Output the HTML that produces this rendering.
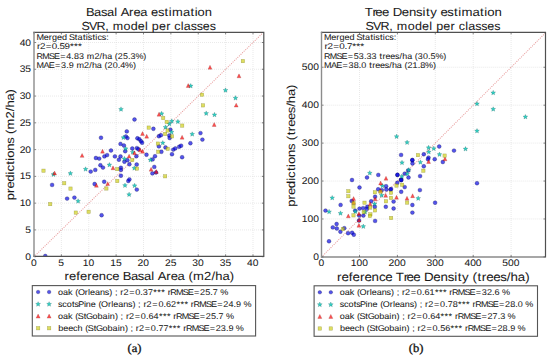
<!DOCTYPE html>
<html><head><meta charset="utf-8"><style>
html,body{margin:0;padding:0;background:#fff;}
body{width:550px;height:358px;overflow:hidden;}
svg{display:block;}
text{font-family:"Liberation Sans", sans-serif;fill:#1a1a1a;stroke:#1a1a1a;stroke-width:0.05px;text-rendering:geometricPrecision;}
</style></head><body>
<svg width="550" height="358" viewBox="0 0 550 358">
<clipPath id="cl"><rect x="34.0" y="32.3" width="229.8" height="224.09999999999997"/></clipPath>
<line x1="61.38" y1="32.3" x2="61.38" y2="256.4" stroke="#d2d2d2" stroke-width="0.7" stroke-dasharray="0.7 1.3"/>
<line x1="88.75" y1="32.3" x2="88.75" y2="256.4" stroke="#d2d2d2" stroke-width="0.7" stroke-dasharray="0.7 1.3"/>
<line x1="116.12" y1="32.3" x2="116.12" y2="256.4" stroke="#d2d2d2" stroke-width="0.7" stroke-dasharray="0.7 1.3"/>
<line x1="143.50" y1="32.3" x2="143.50" y2="256.4" stroke="#d2d2d2" stroke-width="0.7" stroke-dasharray="0.7 1.3"/>
<line x1="170.88" y1="32.3" x2="170.88" y2="256.4" stroke="#d2d2d2" stroke-width="0.7" stroke-dasharray="0.7 1.3"/>
<line x1="198.25" y1="32.3" x2="198.25" y2="256.4" stroke="#d2d2d2" stroke-width="0.7" stroke-dasharray="0.7 1.3"/>
<line x1="225.62" y1="32.3" x2="225.62" y2="256.4" stroke="#d2d2d2" stroke-width="0.7" stroke-dasharray="0.7 1.3"/>
<line x1="253.00" y1="32.3" x2="253.00" y2="256.4" stroke="#d2d2d2" stroke-width="0.7" stroke-dasharray="0.7 1.3"/>
<line x1="34.0" y1="229.92" x2="263.8" y2="229.92" stroke="#d2d2d2" stroke-width="0.7" stroke-dasharray="0.7 1.3"/>
<line x1="34.0" y1="203.15" x2="263.8" y2="203.15" stroke="#d2d2d2" stroke-width="0.7" stroke-dasharray="0.7 1.3"/>
<line x1="34.0" y1="176.38" x2="263.8" y2="176.38" stroke="#d2d2d2" stroke-width="0.7" stroke-dasharray="0.7 1.3"/>
<line x1="34.0" y1="149.60" x2="263.8" y2="149.60" stroke="#d2d2d2" stroke-width="0.7" stroke-dasharray="0.7 1.3"/>
<line x1="34.0" y1="122.82" x2="263.8" y2="122.82" stroke="#d2d2d2" stroke-width="0.7" stroke-dasharray="0.7 1.3"/>
<line x1="34.0" y1="96.05" x2="263.8" y2="96.05" stroke="#d2d2d2" stroke-width="0.7" stroke-dasharray="0.7 1.3"/>
<line x1="34.0" y1="69.27" x2="263.8" y2="69.27" stroke="#d2d2d2" stroke-width="0.7" stroke-dasharray="0.7 1.3"/>
<line x1="34.0" y1="42.50" x2="263.8" y2="42.50" stroke="#d2d2d2" stroke-width="0.7" stroke-dasharray="0.7 1.3"/>
<line x1="34.0" y1="256.7" x2="274.9" y2="21.079999999999984" stroke="rgba(215,80,80,0.55)" stroke-width="1.15" stroke-linecap="round" stroke-dasharray="0.01 2.2" clip-path="url(#cl)"/>
<g clip-path="url(#cl)">
<circle cx="134.50" cy="119.50" r="1.95" fill="rgba(0,0,225,0.67)" stroke="rgba(0,0,60,0.5)" stroke-width="0.5"/>
<circle cx="200.50" cy="133.10" r="1.95" fill="rgba(0,0,225,0.67)" stroke="rgba(0,0,60,0.5)" stroke-width="0.5"/>
<circle cx="202.40" cy="139.60" r="1.95" fill="rgba(0,0,225,0.67)" stroke="rgba(0,0,60,0.5)" stroke-width="0.5"/>
<circle cx="153.40" cy="128.80" r="1.95" fill="rgba(0,0,225,0.67)" stroke="rgba(0,0,60,0.5)" stroke-width="0.5"/>
<circle cx="158.90" cy="136.20" r="1.95" fill="rgba(0,0,225,0.67)" stroke="rgba(0,0,60,0.5)" stroke-width="0.5"/>
<circle cx="160.90" cy="135.20" r="1.95" fill="rgba(0,0,225,0.67)" stroke="rgba(0,0,60,0.5)" stroke-width="0.5"/>
<circle cx="137.40" cy="138.30" r="1.95" fill="rgba(0,0,225,0.67)" stroke="rgba(0,0,60,0.5)" stroke-width="0.5"/>
<circle cx="139.40" cy="139.30" r="1.95" fill="rgba(0,0,225,0.67)" stroke="rgba(0,0,60,0.5)" stroke-width="0.5"/>
<circle cx="141.00" cy="141.30" r="1.95" fill="rgba(0,0,225,0.67)" stroke="rgba(0,0,60,0.5)" stroke-width="0.5"/>
<circle cx="142.10" cy="142.70" r="1.95" fill="rgba(0,0,225,0.67)" stroke="rgba(0,0,60,0.5)" stroke-width="0.5"/>
<circle cx="169.30" cy="135.50" r="1.95" fill="rgba(0,0,225,0.67)" stroke="rgba(0,0,60,0.5)" stroke-width="0.5"/>
<circle cx="169.60" cy="138.00" r="1.95" fill="rgba(0,0,225,0.67)" stroke="rgba(0,0,60,0.5)" stroke-width="0.5"/>
<circle cx="170.40" cy="129.60" r="1.95" fill="rgba(0,0,225,0.67)" stroke="rgba(0,0,60,0.5)" stroke-width="0.5"/>
<circle cx="190.40" cy="143.20" r="1.95" fill="rgba(0,0,225,0.67)" stroke="rgba(0,0,60,0.5)" stroke-width="0.5"/>
<circle cx="158.90" cy="146.40" r="1.95" fill="rgba(0,0,225,0.67)" stroke="rgba(0,0,60,0.5)" stroke-width="0.5"/>
<circle cx="165.50" cy="147.40" r="1.95" fill="rgba(0,0,225,0.67)" stroke="rgba(0,0,60,0.5)" stroke-width="0.5"/>
<circle cx="136.90" cy="148.10" r="1.95" fill="rgba(0,0,225,0.67)" stroke="rgba(0,0,60,0.5)" stroke-width="0.5"/>
<circle cx="138.40" cy="149.30" r="1.95" fill="rgba(0,0,225,0.67)" stroke="rgba(0,0,60,0.5)" stroke-width="0.5"/>
<circle cx="161.40" cy="151.80" r="1.95" fill="rgba(0,0,225,0.67)" stroke="rgba(0,0,60,0.5)" stroke-width="0.5"/>
<circle cx="146.50" cy="154.70" r="1.95" fill="rgba(0,0,225,0.67)" stroke="rgba(0,0,60,0.5)" stroke-width="0.5"/>
<circle cx="155.00" cy="156.20" r="1.95" fill="rgba(0,0,225,0.67)" stroke="rgba(0,0,60,0.5)" stroke-width="0.5"/>
<circle cx="136.40" cy="156.20" r="1.95" fill="rgba(0,0,225,0.67)" stroke="rgba(0,0,60,0.5)" stroke-width="0.5"/>
<circle cx="152.60" cy="159.40" r="1.95" fill="rgba(0,0,225,0.67)" stroke="rgba(0,0,60,0.5)" stroke-width="0.5"/>
<circle cx="136.70" cy="164.50" r="1.95" fill="rgba(0,0,225,0.67)" stroke="rgba(0,0,60,0.5)" stroke-width="0.5"/>
<circle cx="154.30" cy="166.90" r="1.95" fill="rgba(0,0,225,0.67)" stroke="rgba(0,0,60,0.5)" stroke-width="0.5"/>
<circle cx="156.00" cy="172.50" r="1.95" fill="rgba(0,0,225,0.67)" stroke="rgba(0,0,60,0.5)" stroke-width="0.5"/>
<circle cx="152.40" cy="173.40" r="1.95" fill="rgba(0,0,225,0.67)" stroke="rgba(0,0,60,0.5)" stroke-width="0.5"/>
<circle cx="173.30" cy="149.60" r="1.95" fill="rgba(0,0,225,0.67)" stroke="rgba(0,0,60,0.5)" stroke-width="0.5"/>
<circle cx="175.30" cy="148.40" r="1.95" fill="rgba(0,0,225,0.67)" stroke="rgba(0,0,60,0.5)" stroke-width="0.5"/>
<circle cx="179.20" cy="146.70" r="1.95" fill="rgba(0,0,225,0.67)" stroke="rgba(0,0,60,0.5)" stroke-width="0.5"/>
<circle cx="181.10" cy="145.70" r="1.95" fill="rgba(0,0,225,0.67)" stroke="rgba(0,0,60,0.5)" stroke-width="0.5"/>
<circle cx="172.00" cy="154.20" r="1.95" fill="rgba(0,0,225,0.67)" stroke="rgba(0,0,60,0.5)" stroke-width="0.5"/>
<circle cx="182.10" cy="157.20" r="1.95" fill="rgba(0,0,225,0.67)" stroke="rgba(0,0,60,0.5)" stroke-width="0.5"/>
<circle cx="120.50" cy="143.90" r="1.95" fill="rgba(0,0,225,0.67)" stroke="rgba(0,0,60,0.5)" stroke-width="0.5"/>
<circle cx="123.90" cy="145.50" r="1.95" fill="rgba(0,0,225,0.67)" stroke="rgba(0,0,60,0.5)" stroke-width="0.5"/>
<circle cx="125.20" cy="151.20" r="1.95" fill="rgba(0,0,225,0.67)" stroke="rgba(0,0,60,0.5)" stroke-width="0.5"/>
<circle cx="132.30" cy="148.50" r="1.95" fill="rgba(0,0,225,0.67)" stroke="rgba(0,0,60,0.5)" stroke-width="0.5"/>
<circle cx="111.00" cy="150.50" r="1.95" fill="rgba(0,0,225,0.67)" stroke="rgba(0,0,60,0.5)" stroke-width="0.5"/>
<circle cx="95.90" cy="158.00" r="1.95" fill="rgba(0,0,225,0.67)" stroke="rgba(0,0,60,0.5)" stroke-width="0.5"/>
<circle cx="99.20" cy="158.60" r="1.95" fill="rgba(0,0,225,0.67)" stroke="rgba(0,0,60,0.5)" stroke-width="0.5"/>
<circle cx="104.40" cy="156.40" r="1.95" fill="rgba(0,0,225,0.67)" stroke="rgba(0,0,60,0.5)" stroke-width="0.5"/>
<circle cx="107.10" cy="155.10" r="1.95" fill="rgba(0,0,225,0.67)" stroke="rgba(0,0,60,0.5)" stroke-width="0.5"/>
<circle cx="114.90" cy="156.40" r="1.95" fill="rgba(0,0,225,0.67)" stroke="rgba(0,0,60,0.5)" stroke-width="0.5"/>
<circle cx="120.50" cy="156.40" r="1.95" fill="rgba(0,0,225,0.67)" stroke="rgba(0,0,60,0.5)" stroke-width="0.5"/>
<circle cx="118.90" cy="159.70" r="1.95" fill="rgba(0,0,225,0.67)" stroke="rgba(0,0,60,0.5)" stroke-width="0.5"/>
<circle cx="124.40" cy="161.70" r="1.95" fill="rgba(0,0,225,0.67)" stroke="rgba(0,0,60,0.5)" stroke-width="0.5"/>
<circle cx="127.40" cy="160.30" r="1.95" fill="rgba(0,0,225,0.67)" stroke="rgba(0,0,60,0.5)" stroke-width="0.5"/>
<circle cx="129.40" cy="164.30" r="1.95" fill="rgba(0,0,225,0.67)" stroke="rgba(0,0,60,0.5)" stroke-width="0.5"/>
<circle cx="100.40" cy="165.20" r="1.95" fill="rgba(0,0,225,0.67)" stroke="rgba(0,0,60,0.5)" stroke-width="0.5"/>
<circle cx="103.00" cy="167.60" r="1.95" fill="rgba(0,0,225,0.67)" stroke="rgba(0,0,60,0.5)" stroke-width="0.5"/>
<circle cx="120.90" cy="167.80" r="1.95" fill="rgba(0,0,225,0.67)" stroke="rgba(0,0,60,0.5)" stroke-width="0.5"/>
<circle cx="120.90" cy="169.90" r="1.95" fill="rgba(0,0,225,0.67)" stroke="rgba(0,0,60,0.5)" stroke-width="0.5"/>
<circle cx="90.70" cy="171.60" r="1.95" fill="rgba(0,0,225,0.67)" stroke="rgba(0,0,60,0.5)" stroke-width="0.5"/>
<circle cx="95.30" cy="169.90" r="1.95" fill="rgba(0,0,225,0.67)" stroke="rgba(0,0,60,0.5)" stroke-width="0.5"/>
<circle cx="120.90" cy="175.70" r="1.95" fill="rgba(0,0,225,0.67)" stroke="rgba(0,0,60,0.5)" stroke-width="0.5"/>
<circle cx="128.30" cy="181.00" r="1.95" fill="rgba(0,0,225,0.67)" stroke="rgba(0,0,60,0.5)" stroke-width="0.5"/>
<circle cx="129.40" cy="179.40" r="1.95" fill="rgba(0,0,225,0.67)" stroke="rgba(0,0,60,0.5)" stroke-width="0.5"/>
<circle cx="94.60" cy="184.00" r="1.95" fill="rgba(0,0,225,0.67)" stroke="rgba(0,0,60,0.5)" stroke-width="0.5"/>
<circle cx="104.20" cy="181.70" r="1.95" fill="rgba(0,0,225,0.67)" stroke="rgba(0,0,60,0.5)" stroke-width="0.5"/>
<circle cx="136.80" cy="189.60" r="1.95" fill="rgba(0,0,225,0.67)" stroke="rgba(0,0,60,0.5)" stroke-width="0.5"/>
<circle cx="101.60" cy="215.20" r="1.95" fill="rgba(0,0,225,0.67)" stroke="rgba(0,0,60,0.5)" stroke-width="0.5"/>
<circle cx="126.80" cy="131.40" r="1.95" fill="rgba(0,0,225,0.67)" stroke="rgba(0,0,60,0.5)" stroke-width="0.5"/>
<circle cx="125.90" cy="136.50" r="1.95" fill="rgba(0,0,225,0.67)" stroke="rgba(0,0,60,0.5)" stroke-width="0.5"/>
<circle cx="127.50" cy="138.10" r="1.95" fill="rgba(0,0,225,0.67)" stroke="rgba(0,0,60,0.5)" stroke-width="0.5"/>
<circle cx="101.00" cy="137.70" r="1.95" fill="rgba(0,0,225,0.67)" stroke="rgba(0,0,60,0.5)" stroke-width="0.5"/>
<circle cx="52.10" cy="184.90" r="1.95" fill="rgba(0,0,225,0.67)" stroke="rgba(0,0,60,0.5)" stroke-width="0.5"/>
<circle cx="67.10" cy="198.60" r="1.95" fill="rgba(0,0,225,0.67)" stroke="rgba(0,0,60,0.5)" stroke-width="0.5"/>
<circle cx="74.40" cy="197.60" r="1.95" fill="rgba(0,0,225,0.67)" stroke="rgba(0,0,60,0.5)" stroke-width="0.5"/>
<circle cx="45.30" cy="256.00" r="1.95" fill="rgba(0,0,225,0.67)" stroke="rgba(0,0,60,0.5)" stroke-width="0.5"/>
<polygon points="225.50,87.80 226.16,89.39 227.87,89.53 226.57,90.65 226.97,92.32 225.50,91.42 224.03,92.32 224.43,90.65 223.13,89.53 224.84,89.39" fill="rgba(0,195,180,0.8)" stroke="rgba(0,70,70,0.4)" stroke-width="0.5"/>
<polygon points="235.50,95.60 236.16,97.19 237.87,97.33 236.57,98.45 236.97,100.12 235.50,99.22 234.03,100.12 234.43,98.45 233.13,97.33 234.84,97.19" fill="rgba(0,195,180,0.8)" stroke="rgba(0,70,70,0.4)" stroke-width="0.5"/>
<polygon points="206.20,110.90 206.86,112.49 208.57,112.63 207.27,113.75 207.67,115.42 206.20,114.52 204.73,115.42 205.13,113.75 203.83,112.63 205.54,112.49" fill="rgba(0,195,180,0.8)" stroke="rgba(0,70,70,0.4)" stroke-width="0.5"/>
<polygon points="214.50,112.30 215.16,113.89 216.87,114.03 215.57,115.15 215.97,116.82 214.50,115.92 213.03,116.82 213.43,115.15 212.13,114.03 213.84,113.89" fill="rgba(0,195,180,0.8)" stroke="rgba(0,70,70,0.4)" stroke-width="0.5"/>
<polygon points="190.70,83.50 191.36,85.09 193.07,85.23 191.77,86.35 192.17,88.02 190.70,87.12 189.23,88.02 189.63,86.35 188.33,85.23 190.04,85.09" fill="rgba(0,195,180,0.8)" stroke="rgba(0,70,70,0.4)" stroke-width="0.5"/>
<polygon points="161.60,111.20 162.26,112.79 163.97,112.93 162.67,114.05 163.07,115.72 161.60,114.82 160.13,115.72 160.53,114.05 159.23,112.93 160.94,112.79" fill="rgba(0,195,180,0.8)" stroke="rgba(0,70,70,0.4)" stroke-width="0.5"/>
<polygon points="121.00,106.80 121.66,108.39 123.37,108.53 122.07,109.65 122.47,111.32 121.00,110.42 119.53,111.32 119.93,109.65 118.63,108.53 120.34,108.39" fill="rgba(0,195,180,0.8)" stroke="rgba(0,70,70,0.4)" stroke-width="0.5"/>
<polygon points="165.50,124.80 166.16,126.39 167.87,126.53 166.57,127.65 166.97,129.32 165.50,128.42 164.03,129.32 164.43,127.65 163.13,126.53 164.84,126.39" fill="rgba(0,195,180,0.8)" stroke="rgba(0,70,70,0.4)" stroke-width="0.5"/>
<polygon points="162.80,140.50 163.46,142.09 165.17,142.23 163.87,143.35 164.27,145.02 162.80,144.12 161.33,145.02 161.73,143.35 160.43,142.23 162.14,142.09" fill="rgba(0,195,180,0.8)" stroke="rgba(0,70,70,0.4)" stroke-width="0.5"/>
<polygon points="171.80,118.70 172.46,120.29 174.17,120.43 172.87,121.55 173.27,123.22 171.80,122.32 170.33,123.22 170.73,121.55 169.43,120.43 171.14,120.29" fill="rgba(0,195,180,0.8)" stroke="rgba(0,70,70,0.4)" stroke-width="0.5"/>
<polygon points="177.90,119.20 178.56,120.79 180.27,120.93 178.97,122.05 179.37,123.72 177.90,122.82 176.43,123.72 176.83,122.05 175.53,120.93 177.24,120.79" fill="rgba(0,195,180,0.8)" stroke="rgba(0,70,70,0.4)" stroke-width="0.5"/>
<polygon points="169.40,121.40 170.06,122.99 171.77,123.13 170.47,124.25 170.87,125.92 169.40,125.02 167.93,125.92 168.33,124.25 167.03,123.13 168.74,122.99" fill="rgba(0,195,180,0.8)" stroke="rgba(0,70,70,0.4)" stroke-width="0.5"/>
<polygon points="171.60,129.70 172.26,131.29 173.97,131.43 172.67,132.55 173.07,134.22 171.60,133.32 170.13,134.22 170.53,132.55 169.23,131.43 170.94,131.29" fill="rgba(0,195,180,0.8)" stroke="rgba(0,70,70,0.4)" stroke-width="0.5"/>
<polygon points="192.20,131.70 192.86,133.29 194.57,133.43 193.27,134.55 193.67,136.22 192.20,135.32 190.73,136.22 191.13,134.55 189.83,133.43 191.54,133.29" fill="rgba(0,195,180,0.8)" stroke="rgba(0,70,70,0.4)" stroke-width="0.5"/>
<polygon points="150.40,157.50 151.06,159.09 152.77,159.23 151.47,160.35 151.87,162.02 150.40,161.12 148.93,162.02 149.33,160.35 148.03,159.23 149.74,159.09" fill="rgba(0,195,180,0.8)" stroke="rgba(0,70,70,0.4)" stroke-width="0.5"/>
<polygon points="125.70,146.20 126.36,147.79 128.07,147.93 126.77,149.05 127.17,150.72 125.70,149.82 124.23,150.72 124.63,149.05 123.33,147.93 125.04,147.79" fill="rgba(0,195,180,0.8)" stroke="rgba(0,70,70,0.4)" stroke-width="0.5"/>
<polygon points="132.70,149.80 133.36,151.39 135.07,151.53 133.77,152.65 134.17,154.32 132.70,153.42 131.23,154.32 131.63,152.65 130.33,151.53 132.04,151.39" fill="rgba(0,195,180,0.8)" stroke="rgba(0,70,70,0.4)" stroke-width="0.5"/>
<polygon points="124.40,156.30 125.06,157.89 126.77,158.03 125.47,159.15 125.87,160.82 124.40,159.92 122.93,160.82 123.33,159.15 122.03,158.03 123.74,157.89" fill="rgba(0,195,180,0.8)" stroke="rgba(0,70,70,0.4)" stroke-width="0.5"/>
<polygon points="109.40,162.40 110.06,163.99 111.77,164.13 110.47,165.25 110.87,166.92 109.40,166.02 107.93,166.92 108.33,165.25 107.03,164.13 108.74,163.99" fill="rgba(0,195,180,0.8)" stroke="rgba(0,70,70,0.4)" stroke-width="0.5"/>
<polygon points="134.30,165.70 134.96,167.29 136.67,167.43 135.37,168.55 135.77,170.22 134.30,169.32 132.83,170.22 133.23,168.55 131.93,167.43 133.64,167.29" fill="rgba(0,195,180,0.8)" stroke="rgba(0,70,70,0.4)" stroke-width="0.5"/>
<polygon points="125.00,183.00 125.66,184.59 127.37,184.73 126.07,185.85 126.47,187.52 125.00,186.62 123.53,187.52 123.93,185.85 122.63,184.73 124.34,184.59" fill="rgba(0,195,180,0.8)" stroke="rgba(0,70,70,0.4)" stroke-width="0.5"/>
<polygon points="134.60,183.20 135.26,184.79 136.97,184.93 135.67,186.05 136.07,187.72 134.60,186.82 133.13,187.72 133.53,186.05 132.23,184.93 133.94,184.79" fill="rgba(0,195,180,0.8)" stroke="rgba(0,70,70,0.4)" stroke-width="0.5"/>
<polygon points="129.10,192.10 129.76,193.69 131.47,193.83 130.17,194.95 130.57,196.62 129.10,195.72 127.63,196.62 128.03,194.95 126.73,193.83 128.44,193.69" fill="rgba(0,195,180,0.8)" stroke="rgba(0,70,70,0.4)" stroke-width="0.5"/>
<polygon points="123.40,135.10 124.06,136.69 125.77,136.83 124.47,137.95 124.87,139.62 123.40,138.72 121.93,139.62 122.33,137.95 121.03,136.83 122.74,136.69" fill="rgba(0,195,180,0.8)" stroke="rgba(0,70,70,0.4)" stroke-width="0.5"/>
<polygon points="53.40,172.00 54.06,173.59 55.77,173.73 54.47,174.85 54.87,176.52 53.40,175.62 51.93,176.52 52.33,174.85 51.03,173.73 52.74,173.59" fill="rgba(0,195,180,0.8)" stroke="rgba(0,70,70,0.4)" stroke-width="0.5"/>
<polygon points="70.40,170.90 71.06,172.49 72.77,172.63 71.47,173.75 71.87,175.42 70.40,174.52 68.93,175.42 69.33,173.75 68.03,172.63 69.74,172.49" fill="rgba(0,195,180,0.8)" stroke="rgba(0,70,70,0.4)" stroke-width="0.5"/>
<polygon points="85.60,166.70 86.26,168.29 87.97,168.43 86.67,169.55 87.07,171.22 85.60,170.32 84.13,171.22 84.53,169.55 83.23,168.43 84.94,168.29" fill="rgba(0,195,180,0.8)" stroke="rgba(0,70,70,0.4)" stroke-width="0.5"/>
<polygon points="78.10,198.70 78.76,200.29 80.47,200.43 79.17,201.55 79.57,203.22 78.10,202.32 76.63,203.22 77.03,201.55 75.73,200.43 77.44,200.29" fill="rgba(0,195,180,0.8)" stroke="rgba(0,70,70,0.4)" stroke-width="0.5"/>
<polygon points="210.00,65.25 208.05,69.15 211.95,69.15" fill="rgba(255,0,0,0.68)" stroke="rgba(110,0,0,0.4)" stroke-width="0.5"/>
<polygon points="239.00,73.85 237.05,77.75 240.95,77.75" fill="rgba(255,0,0,0.68)" stroke="rgba(110,0,0,0.4)" stroke-width="0.5"/>
<polygon points="236.20,103.15 234.25,107.05 238.15,107.05" fill="rgba(255,0,0,0.68)" stroke="rgba(110,0,0,0.4)" stroke-width="0.5"/>
<polygon points="188.20,83.55 186.25,87.45 190.15,87.45" fill="rgba(255,0,0,0.68)" stroke="rgba(110,0,0,0.4)" stroke-width="0.5"/>
<polygon points="159.00,112.25 157.05,116.15 160.95,116.15" fill="rgba(255,0,0,0.68)" stroke="rgba(110,0,0,0.4)" stroke-width="0.5"/>
<polygon points="214.20,122.55 212.25,126.45 216.15,126.45" fill="rgba(255,0,0,0.68)" stroke="rgba(110,0,0,0.4)" stroke-width="0.5"/>
<polygon points="142.50,131.55 140.55,135.45 144.45,135.45" fill="rgba(255,0,0,0.68)" stroke="rgba(110,0,0,0.4)" stroke-width="0.5"/>
<polygon points="146.70,134.25 144.75,138.15 148.65,138.15" fill="rgba(255,0,0,0.68)" stroke="rgba(110,0,0,0.4)" stroke-width="0.5"/>
<polygon points="182.10,135.25 180.15,139.15 184.05,139.15" fill="rgba(255,0,0,0.68)" stroke="rgba(110,0,0,0.4)" stroke-width="0.5"/>
<polygon points="140.10,147.85 138.15,151.75 142.05,151.75" fill="rgba(255,0,0,0.68)" stroke="rgba(110,0,0,0.4)" stroke-width="0.5"/>
<polygon points="142.60,149.35 140.65,153.25 144.55,153.25" fill="rgba(255,0,0,0.68)" stroke="rgba(110,0,0,0.4)" stroke-width="0.5"/>
<polygon points="134.50,150.85 132.55,154.75 136.45,154.75" fill="rgba(255,0,0,0.68)" stroke="rgba(110,0,0,0.4)" stroke-width="0.5"/>
<polygon points="151.10,167.25 149.15,171.15 153.05,171.15" fill="rgba(255,0,0,0.68)" stroke="rgba(110,0,0,0.4)" stroke-width="0.5"/>
<polygon points="156.30,169.55 154.35,173.45 158.25,173.45" fill="rgba(255,0,0,0.68)" stroke="rgba(110,0,0,0.4)" stroke-width="0.5"/>
<polygon points="102.50,149.25 100.55,153.15 104.45,153.15" fill="rgba(255,0,0,0.68)" stroke="rgba(110,0,0,0.4)" stroke-width="0.5"/>
<polygon points="129.10,154.15 127.15,158.05 131.05,158.05" fill="rgba(255,0,0,0.68)" stroke="rgba(110,0,0,0.4)" stroke-width="0.5"/>
<polygon points="113.00,165.85 111.05,169.75 114.95,169.75" fill="rgba(255,0,0,0.68)" stroke="rgba(110,0,0,0.4)" stroke-width="0.5"/>
<polygon points="96.40,183.35 94.45,187.25 98.35,187.25" fill="rgba(255,0,0,0.68)" stroke="rgba(110,0,0,0.4)" stroke-width="0.5"/>
<polygon points="107.70,181.65 105.75,185.55 109.65,185.55" fill="rgba(255,0,0,0.68)" stroke="rgba(110,0,0,0.4)" stroke-width="0.5"/>
<polygon points="54.60,171.05 52.65,174.95 56.55,174.95" fill="rgba(255,0,0,0.68)" stroke="rgba(110,0,0,0.4)" stroke-width="0.5"/>
<polygon points="82.10,153.45 80.15,157.35 84.05,157.35" fill="rgba(255,0,0,0.68)" stroke="rgba(110,0,0,0.4)" stroke-width="0.5"/>
<rect x="241.22" y="59.42" width="3.35" height="3.35" fill="rgba(205,205,10,0.65)" stroke="rgba(100,100,0,0.45)" stroke-width="0.5"/>
<rect x="200.32" y="93.02" width="3.35" height="3.35" fill="rgba(205,205,10,0.65)" stroke="rgba(100,100,0,0.45)" stroke-width="0.5"/>
<rect x="201.32" y="103.72" width="3.35" height="3.35" fill="rgba(205,205,10,0.65)" stroke="rgba(100,100,0,0.45)" stroke-width="0.5"/>
<rect x="161.52" y="116.32" width="3.35" height="3.35" fill="rgba(205,205,10,0.65)" stroke="rgba(100,100,0,0.45)" stroke-width="0.5"/>
<rect x="165.02" y="120.22" width="3.35" height="3.35" fill="rgba(205,205,10,0.65)" stroke="rgba(100,100,0,0.45)" stroke-width="0.5"/>
<rect x="147.02" y="125.92" width="3.35" height="3.35" fill="rgba(205,205,10,0.65)" stroke="rgba(100,100,0,0.45)" stroke-width="0.5"/>
<rect x="165.92" y="128.82" width="3.35" height="3.35" fill="rgba(205,205,10,0.65)" stroke="rgba(100,100,0,0.45)" stroke-width="0.5"/>
<rect x="163.42" y="132.32" width="3.35" height="3.35" fill="rgba(205,205,10,0.65)" stroke="rgba(100,100,0,0.45)" stroke-width="0.5"/>
<rect x="156.22" y="141.92" width="3.35" height="3.35" fill="rgba(205,205,10,0.65)" stroke="rgba(100,100,0,0.45)" stroke-width="0.5"/>
<rect x="180.52" y="123.92" width="3.35" height="3.35" fill="rgba(205,205,10,0.65)" stroke="rgba(100,100,0,0.45)" stroke-width="0.5"/>
<rect x="170.32" y="134.72" width="3.35" height="3.35" fill="rgba(205,205,10,0.65)" stroke="rgba(100,100,0,0.45)" stroke-width="0.5"/>
<rect x="166.02" y="147.12" width="3.35" height="3.35" fill="rgba(205,205,10,0.65)" stroke="rgba(100,100,0,0.45)" stroke-width="0.5"/>
<rect x="156.52" y="150.12" width="3.35" height="3.35" fill="rgba(205,205,10,0.65)" stroke="rgba(100,100,0,0.45)" stroke-width="0.5"/>
<rect x="163.42" y="174.62" width="3.35" height="3.35" fill="rgba(205,205,10,0.65)" stroke="rgba(100,100,0,0.45)" stroke-width="0.5"/>
<rect x="130.62" y="158.32" width="3.35" height="3.35" fill="rgba(205,205,10,0.65)" stroke="rgba(100,100,0,0.45)" stroke-width="0.5"/>
<rect x="115.62" y="167.42" width="3.35" height="3.35" fill="rgba(205,205,10,0.65)" stroke="rgba(100,100,0,0.45)" stroke-width="0.5"/>
<rect x="135.32" y="166.92" width="3.35" height="3.35" fill="rgba(205,205,10,0.65)" stroke="rgba(100,100,0,0.45)" stroke-width="0.5"/>
<rect x="115.62" y="179.32" width="3.35" height="3.35" fill="rgba(205,205,10,0.65)" stroke="rgba(100,100,0,0.45)" stroke-width="0.5"/>
<rect x="104.72" y="186.82" width="3.35" height="3.35" fill="rgba(205,205,10,0.65)" stroke="rgba(100,100,0,0.45)" stroke-width="0.5"/>
<rect x="41.82" y="169.02" width="3.35" height="3.35" fill="rgba(205,205,10,0.65)" stroke="rgba(100,100,0,0.45)" stroke-width="0.5"/>
<rect x="62.52" y="181.52" width="3.35" height="3.35" fill="rgba(205,205,10,0.65)" stroke="rgba(100,100,0,0.45)" stroke-width="0.5"/>
<rect x="68.82" y="186.92" width="3.35" height="3.35" fill="rgba(205,205,10,0.65)" stroke="rgba(100,100,0,0.45)" stroke-width="0.5"/>
<rect x="48.52" y="202.42" width="3.35" height="3.35" fill="rgba(205,205,10,0.65)" stroke="rgba(100,100,0,0.45)" stroke-width="0.5"/>
<rect x="74.12" y="210.92" width="3.35" height="3.35" fill="rgba(205,205,10,0.65)" stroke="rgba(100,100,0,0.45)" stroke-width="0.5"/>
<rect x="86.92" y="210.12" width="3.35" height="3.35" fill="rgba(205,205,10,0.65)" stroke="rgba(100,100,0,0.45)" stroke-width="0.5"/>
</g>
<line x1="34.00" y1="256.4" x2="34.00" y2="254.39999999999998" stroke="#333" stroke-width="0.6"/>
<line x1="34.00" y1="32.3" x2="34.00" y2="34.3" stroke="#333" stroke-width="0.6"/>
<line x1="61.38" y1="256.4" x2="61.38" y2="254.39999999999998" stroke="#333" stroke-width="0.6"/>
<line x1="61.38" y1="32.3" x2="61.38" y2="34.3" stroke="#333" stroke-width="0.6"/>
<line x1="88.75" y1="256.4" x2="88.75" y2="254.39999999999998" stroke="#333" stroke-width="0.6"/>
<line x1="88.75" y1="32.3" x2="88.75" y2="34.3" stroke="#333" stroke-width="0.6"/>
<line x1="116.12" y1="256.4" x2="116.12" y2="254.39999999999998" stroke="#333" stroke-width="0.6"/>
<line x1="116.12" y1="32.3" x2="116.12" y2="34.3" stroke="#333" stroke-width="0.6"/>
<line x1="143.50" y1="256.4" x2="143.50" y2="254.39999999999998" stroke="#333" stroke-width="0.6"/>
<line x1="143.50" y1="32.3" x2="143.50" y2="34.3" stroke="#333" stroke-width="0.6"/>
<line x1="170.88" y1="256.4" x2="170.88" y2="254.39999999999998" stroke="#333" stroke-width="0.6"/>
<line x1="170.88" y1="32.3" x2="170.88" y2="34.3" stroke="#333" stroke-width="0.6"/>
<line x1="198.25" y1="256.4" x2="198.25" y2="254.39999999999998" stroke="#333" stroke-width="0.6"/>
<line x1="198.25" y1="32.3" x2="198.25" y2="34.3" stroke="#333" stroke-width="0.6"/>
<line x1="225.62" y1="256.4" x2="225.62" y2="254.39999999999998" stroke="#333" stroke-width="0.6"/>
<line x1="225.62" y1="32.3" x2="225.62" y2="34.3" stroke="#333" stroke-width="0.6"/>
<line x1="253.00" y1="256.4" x2="253.00" y2="254.39999999999998" stroke="#333" stroke-width="0.6"/>
<line x1="253.00" y1="32.3" x2="253.00" y2="34.3" stroke="#333" stroke-width="0.6"/>
<line x1="34.0" y1="256.70" x2="36.0" y2="256.70" stroke="#333" stroke-width="0.6"/>
<line x1="263.8" y1="256.70" x2="261.8" y2="256.70" stroke="#333" stroke-width="0.6"/>
<line x1="34.0" y1="229.92" x2="36.0" y2="229.92" stroke="#333" stroke-width="0.6"/>
<line x1="263.8" y1="229.92" x2="261.8" y2="229.92" stroke="#333" stroke-width="0.6"/>
<line x1="34.0" y1="203.15" x2="36.0" y2="203.15" stroke="#333" stroke-width="0.6"/>
<line x1="263.8" y1="203.15" x2="261.8" y2="203.15" stroke="#333" stroke-width="0.6"/>
<line x1="34.0" y1="176.38" x2="36.0" y2="176.38" stroke="#333" stroke-width="0.6"/>
<line x1="263.8" y1="176.38" x2="261.8" y2="176.38" stroke="#333" stroke-width="0.6"/>
<line x1="34.0" y1="149.60" x2="36.0" y2="149.60" stroke="#333" stroke-width="0.6"/>
<line x1="263.8" y1="149.60" x2="261.8" y2="149.60" stroke="#333" stroke-width="0.6"/>
<line x1="34.0" y1="122.82" x2="36.0" y2="122.82" stroke="#333" stroke-width="0.6"/>
<line x1="263.8" y1="122.82" x2="261.8" y2="122.82" stroke="#333" stroke-width="0.6"/>
<line x1="34.0" y1="96.05" x2="36.0" y2="96.05" stroke="#333" stroke-width="0.6"/>
<line x1="263.8" y1="96.05" x2="261.8" y2="96.05" stroke="#333" stroke-width="0.6"/>
<line x1="34.0" y1="69.27" x2="36.0" y2="69.27" stroke="#333" stroke-width="0.6"/>
<line x1="263.8" y1="69.27" x2="261.8" y2="69.27" stroke="#333" stroke-width="0.6"/>
<line x1="34.0" y1="42.50" x2="36.0" y2="42.50" stroke="#333" stroke-width="0.6"/>
<line x1="263.8" y1="42.50" x2="261.8" y2="42.50" stroke="#333" stroke-width="0.6"/>
<path d="M33.4,32.3 H263.8 V256.4 H33.4" fill="none" stroke="#505050" stroke-width="1.2"/>
<line x1="34.0" y1="31.699999999999996" x2="34.0" y2="257.0" stroke="#8c8c8c" stroke-width="1.4"/>
<clipPath id="cr"><rect x="321.5" y="32.3" width="224.0" height="224.7"/></clipPath>
<line x1="359.50" y1="32.3" x2="359.50" y2="257.0" stroke="#d2d2d2" stroke-width="0.7" stroke-dasharray="0.7 1.3"/>
<line x1="397.40" y1="32.3" x2="397.40" y2="257.0" stroke="#d2d2d2" stroke-width="0.7" stroke-dasharray="0.7 1.3"/>
<line x1="435.30" y1="32.3" x2="435.30" y2="257.0" stroke="#d2d2d2" stroke-width="0.7" stroke-dasharray="0.7 1.3"/>
<line x1="473.20" y1="32.3" x2="473.20" y2="257.0" stroke="#d2d2d2" stroke-width="0.7" stroke-dasharray="0.7 1.3"/>
<line x1="511.10" y1="32.3" x2="511.10" y2="257.0" stroke="#d2d2d2" stroke-width="0.7" stroke-dasharray="0.7 1.3"/>
<line x1="321.5" y1="218.97" x2="545.5" y2="218.97" stroke="#d2d2d2" stroke-width="0.7" stroke-dasharray="0.7 1.3"/>
<line x1="321.5" y1="181.04" x2="545.5" y2="181.04" stroke="#d2d2d2" stroke-width="0.7" stroke-dasharray="0.7 1.3"/>
<line x1="321.5" y1="143.11" x2="545.5" y2="143.11" stroke="#d2d2d2" stroke-width="0.7" stroke-dasharray="0.7 1.3"/>
<line x1="321.5" y1="105.18" x2="545.5" y2="105.18" stroke="#d2d2d2" stroke-width="0.7" stroke-dasharray="0.7 1.3"/>
<line x1="321.5" y1="67.25" x2="545.5" y2="67.25" stroke="#d2d2d2" stroke-width="0.7" stroke-dasharray="0.7 1.3"/>
<line x1="321.6" y1="256.9" x2="556.58" y2="21.733999999999952" stroke="rgba(215,80,80,0.55)" stroke-width="1.15" stroke-linecap="round" stroke-dasharray="0.01 2.2" clip-path="url(#cr)"/>
<g clip-path="url(#cr)">
<circle cx="439.20" cy="146.50" r="1.95" fill="rgba(0,0,225,0.67)" stroke="rgba(0,0,60,0.5)" stroke-width="0.5"/>
<circle cx="454.00" cy="150.60" r="1.95" fill="rgba(0,0,225,0.67)" stroke="rgba(0,0,60,0.5)" stroke-width="0.5"/>
<circle cx="401.10" cy="154.90" r="1.95" fill="rgba(0,0,225,0.67)" stroke="rgba(0,0,60,0.5)" stroke-width="0.5"/>
<circle cx="423.80" cy="154.30" r="1.95" fill="rgba(0,0,225,0.67)" stroke="rgba(0,0,60,0.5)" stroke-width="0.5"/>
<circle cx="428.50" cy="157.60" r="1.95" fill="rgba(0,0,225,0.67)" stroke="rgba(0,0,60,0.5)" stroke-width="0.5"/>
<circle cx="428.00" cy="159.20" r="1.95" fill="rgba(0,0,225,0.67)" stroke="rgba(0,0,60,0.5)" stroke-width="0.5"/>
<circle cx="434.70" cy="159.20" r="1.95" fill="rgba(0,0,225,0.67)" stroke="rgba(0,0,60,0.5)" stroke-width="0.5"/>
<circle cx="442.80" cy="162.00" r="1.95" fill="rgba(0,0,225,0.67)" stroke="rgba(0,0,60,0.5)" stroke-width="0.5"/>
<circle cx="412.40" cy="160.20" r="1.95" fill="rgba(0,0,225,0.67)" stroke="rgba(0,0,60,0.5)" stroke-width="0.5"/>
<circle cx="412.30" cy="160.00" r="1.95" fill="rgba(0,0,225,0.67)" stroke="rgba(0,0,60,0.5)" stroke-width="0.5"/>
<circle cx="412.50" cy="163.50" r="1.95" fill="rgba(0,0,225,0.67)" stroke="rgba(0,0,60,0.5)" stroke-width="0.5"/>
<circle cx="423.80" cy="166.30" r="1.95" fill="rgba(0,0,225,0.67)" stroke="rgba(0,0,60,0.5)" stroke-width="0.5"/>
<circle cx="408.20" cy="170.50" r="1.95" fill="rgba(0,0,225,0.67)" stroke="rgba(0,0,60,0.5)" stroke-width="0.5"/>
<circle cx="397.40" cy="175.00" r="1.95" fill="rgba(0,0,225,0.67)" stroke="rgba(0,0,60,0.5)" stroke-width="0.5"/>
<circle cx="397.50" cy="174.80" r="1.95" fill="rgba(0,0,225,0.67)" stroke="rgba(0,0,60,0.5)" stroke-width="0.5"/>
<circle cx="404.70" cy="173.60" r="1.95" fill="rgba(0,0,225,0.67)" stroke="rgba(0,0,60,0.5)" stroke-width="0.5"/>
<circle cx="408.50" cy="177.50" r="1.95" fill="rgba(0,0,225,0.67)" stroke="rgba(0,0,60,0.5)" stroke-width="0.5"/>
<circle cx="420.10" cy="176.10" r="1.95" fill="rgba(0,0,225,0.67)" stroke="rgba(0,0,60,0.5)" stroke-width="0.5"/>
<circle cx="401.10" cy="179.80" r="1.95" fill="rgba(0,0,225,0.67)" stroke="rgba(0,0,60,0.5)" stroke-width="0.5"/>
<circle cx="401.20" cy="180.00" r="1.95" fill="rgba(0,0,225,0.67)" stroke="rgba(0,0,60,0.5)" stroke-width="0.5"/>
<circle cx="378.30" cy="174.90" r="1.95" fill="rgba(0,0,225,0.67)" stroke="rgba(0,0,60,0.5)" stroke-width="0.5"/>
<circle cx="367.00" cy="177.50" r="1.95" fill="rgba(0,0,225,0.67)" stroke="rgba(0,0,60,0.5)" stroke-width="0.5"/>
<circle cx="352.00" cy="180.00" r="1.95" fill="rgba(0,0,225,0.67)" stroke="rgba(0,0,60,0.5)" stroke-width="0.5"/>
<circle cx="359.50" cy="187.50" r="1.95" fill="rgba(0,0,225,0.67)" stroke="rgba(0,0,60,0.5)" stroke-width="0.5"/>
<circle cx="351.70" cy="200.90" r="1.95" fill="rgba(0,0,225,0.67)" stroke="rgba(0,0,60,0.5)" stroke-width="0.5"/>
<circle cx="340.60" cy="204.90" r="1.95" fill="rgba(0,0,225,0.67)" stroke="rgba(0,0,60,0.5)" stroke-width="0.5"/>
<circle cx="325.50" cy="210.60" r="1.95" fill="rgba(0,0,225,0.67)" stroke="rgba(0,0,60,0.5)" stroke-width="0.5"/>
<circle cx="359.50" cy="208.60" r="1.95" fill="rgba(0,0,225,0.67)" stroke="rgba(0,0,60,0.5)" stroke-width="0.5"/>
<circle cx="355.20" cy="210.60" r="1.95" fill="rgba(0,0,225,0.67)" stroke="rgba(0,0,60,0.5)" stroke-width="0.5"/>
<circle cx="386.10" cy="186.20" r="1.95" fill="rgba(0,0,225,0.67)" stroke="rgba(0,0,60,0.5)" stroke-width="0.5"/>
<circle cx="378.20" cy="189.30" r="1.95" fill="rgba(0,0,225,0.67)" stroke="rgba(0,0,60,0.5)" stroke-width="0.5"/>
<circle cx="381.80" cy="190.10" r="1.95" fill="rgba(0,0,225,0.67)" stroke="rgba(0,0,60,0.5)" stroke-width="0.5"/>
<circle cx="386.30" cy="189.50" r="1.95" fill="rgba(0,0,225,0.67)" stroke="rgba(0,0,60,0.5)" stroke-width="0.5"/>
<circle cx="390.50" cy="189.50" r="1.95" fill="rgba(0,0,225,0.67)" stroke="rgba(0,0,60,0.5)" stroke-width="0.5"/>
<circle cx="375.10" cy="196.80" r="1.95" fill="rgba(0,0,225,0.67)" stroke="rgba(0,0,60,0.5)" stroke-width="0.5"/>
<circle cx="393.60" cy="201.60" r="1.95" fill="rgba(0,0,225,0.67)" stroke="rgba(0,0,60,0.5)" stroke-width="0.5"/>
<circle cx="371.20" cy="201.30" r="1.95" fill="rgba(0,0,225,0.67)" stroke="rgba(0,0,60,0.5)" stroke-width="0.5"/>
<circle cx="385.80" cy="206.80" r="1.95" fill="rgba(0,0,225,0.67)" stroke="rgba(0,0,60,0.5)" stroke-width="0.5"/>
<circle cx="393.60" cy="208.50" r="1.95" fill="rgba(0,0,225,0.67)" stroke="rgba(0,0,60,0.5)" stroke-width="0.5"/>
<circle cx="367.30" cy="206.80" r="1.95" fill="rgba(0,0,225,0.67)" stroke="rgba(0,0,60,0.5)" stroke-width="0.5"/>
<circle cx="374.80" cy="206.70" r="1.95" fill="rgba(0,0,225,0.67)" stroke="rgba(0,0,60,0.5)" stroke-width="0.5"/>
<circle cx="363.10" cy="208.10" r="1.95" fill="rgba(0,0,225,0.67)" stroke="rgba(0,0,60,0.5)" stroke-width="0.5"/>
<circle cx="366.80" cy="208.80" r="1.95" fill="rgba(0,0,225,0.67)" stroke="rgba(0,0,60,0.5)" stroke-width="0.5"/>
<circle cx="401.20" cy="180.00" r="1.95" fill="rgba(0,0,225,0.67)" stroke="rgba(0,0,60,0.5)" stroke-width="0.5"/>
<circle cx="397.30" cy="182.80" r="1.95" fill="rgba(0,0,225,0.67)" stroke="rgba(0,0,60,0.5)" stroke-width="0.5"/>
<circle cx="404.70" cy="187.10" r="1.95" fill="rgba(0,0,225,0.67)" stroke="rgba(0,0,60,0.5)" stroke-width="0.5"/>
<circle cx="419.90" cy="190.10" r="1.95" fill="rgba(0,0,225,0.67)" stroke="rgba(0,0,60,0.5)" stroke-width="0.5"/>
<circle cx="391.10" cy="189.00" r="1.95" fill="rgba(0,0,225,0.67)" stroke="rgba(0,0,60,0.5)" stroke-width="0.5"/>
<circle cx="401.20" cy="191.80" r="1.95" fill="rgba(0,0,225,0.67)" stroke="rgba(0,0,60,0.5)" stroke-width="0.5"/>
<circle cx="412.40" cy="205.00" r="1.95" fill="rgba(0,0,225,0.67)" stroke="rgba(0,0,60,0.5)" stroke-width="0.5"/>
<circle cx="412.40" cy="212.60" r="1.95" fill="rgba(0,0,225,0.67)" stroke="rgba(0,0,60,0.5)" stroke-width="0.5"/>
<circle cx="477.00" cy="183.20" r="1.95" fill="rgba(0,0,225,0.67)" stroke="rgba(0,0,60,0.5)" stroke-width="0.5"/>
<circle cx="435.10" cy="202.70" r="1.95" fill="rgba(0,0,225,0.67)" stroke="rgba(0,0,60,0.5)" stroke-width="0.5"/>
<circle cx="359.20" cy="215.60" r="1.95" fill="rgba(0,0,225,0.67)" stroke="rgba(0,0,60,0.5)" stroke-width="0.5"/>
<circle cx="363.40" cy="215.60" r="1.95" fill="rgba(0,0,225,0.67)" stroke="rgba(0,0,60,0.5)" stroke-width="0.5"/>
<circle cx="375.10" cy="220.90" r="1.95" fill="rgba(0,0,225,0.67)" stroke="rgba(0,0,60,0.5)" stroke-width="0.5"/>
<circle cx="359.00" cy="220.50" r="1.95" fill="rgba(0,0,225,0.67)" stroke="rgba(0,0,60,0.5)" stroke-width="0.5"/>
<circle cx="336.60" cy="224.00" r="1.95" fill="rgba(0,0,225,0.67)" stroke="rgba(0,0,60,0.5)" stroke-width="0.5"/>
<circle cx="332.80" cy="227.40" r="1.95" fill="rgba(0,0,225,0.67)" stroke="rgba(0,0,60,0.5)" stroke-width="0.5"/>
<circle cx="336.80" cy="228.50" r="1.95" fill="rgba(0,0,225,0.67)" stroke="rgba(0,0,60,0.5)" stroke-width="0.5"/>
<circle cx="340.40" cy="231.70" r="1.95" fill="rgba(0,0,225,0.67)" stroke="rgba(0,0,60,0.5)" stroke-width="0.5"/>
<circle cx="344.30" cy="228.20" r="1.95" fill="rgba(0,0,225,0.67)" stroke="rgba(0,0,60,0.5)" stroke-width="0.5"/>
<circle cx="348.10" cy="233.20" r="1.95" fill="rgba(0,0,225,0.67)" stroke="rgba(0,0,60,0.5)" stroke-width="0.5"/>
<circle cx="352.10" cy="232.70" r="1.95" fill="rgba(0,0,225,0.67)" stroke="rgba(0,0,60,0.5)" stroke-width="0.5"/>
<circle cx="353.80" cy="234.70" r="1.95" fill="rgba(0,0,225,0.67)" stroke="rgba(0,0,60,0.5)" stroke-width="0.5"/>
<circle cx="329.00" cy="241.30" r="1.95" fill="rgba(0,0,225,0.67)" stroke="rgba(0,0,60,0.5)" stroke-width="0.5"/>
<polygon points="493.20,90.30 493.86,91.89 495.57,92.03 494.27,93.15 494.67,94.82 493.20,93.92 491.73,94.82 492.13,93.15 490.83,92.03 492.54,91.89" fill="rgba(0,195,180,0.8)" stroke="rgba(0,70,70,0.4)" stroke-width="0.5"/>
<polygon points="477.00,101.30 477.66,102.89 479.37,103.03 478.07,104.15 478.47,105.82 477.00,104.92 475.53,105.82 475.93,104.15 474.63,103.03 476.34,102.89" fill="rgba(0,195,180,0.8)" stroke="rgba(0,70,70,0.4)" stroke-width="0.5"/>
<polygon points="493.20,106.70 493.86,108.29 495.57,108.43 494.27,109.55 494.67,111.22 493.20,110.32 491.73,111.22 492.13,109.55 490.83,108.43 492.54,108.29" fill="rgba(0,195,180,0.8)" stroke="rgba(0,70,70,0.4)" stroke-width="0.5"/>
<polygon points="525.40,114.40 526.06,115.99 527.77,116.13 526.47,117.25 526.87,118.92 525.40,118.02 523.93,118.92 524.33,117.25 523.03,116.13 524.74,115.99" fill="rgba(0,195,180,0.8)" stroke="rgba(0,70,70,0.4)" stroke-width="0.5"/>
<polygon points="477.00,128.50 477.66,130.09 479.37,130.23 478.07,131.35 478.47,133.02 477.00,132.12 475.53,133.02 475.93,131.35 474.63,130.23 476.34,130.09" fill="rgba(0,195,180,0.8)" stroke="rgba(0,70,70,0.4)" stroke-width="0.5"/>
<polygon points="396.60,134.10 397.26,135.69 398.97,135.83 397.67,136.95 398.07,138.62 396.60,137.72 395.13,138.62 395.53,136.95 394.23,135.83 395.94,135.69" fill="rgba(0,195,180,0.8)" stroke="rgba(0,70,70,0.4)" stroke-width="0.5"/>
<polygon points="407.10,140.00 407.76,141.59 409.47,141.73 408.17,142.85 408.57,144.52 407.10,143.62 405.63,144.52 406.03,142.85 404.73,141.73 406.44,141.59" fill="rgba(0,195,180,0.8)" stroke="rgba(0,70,70,0.4)" stroke-width="0.5"/>
<polygon points="428.60,145.20 429.26,146.79 430.97,146.93 429.67,148.05 430.07,149.72 428.60,148.82 427.13,149.72 427.53,148.05 426.23,146.93 427.94,146.79" fill="rgba(0,195,180,0.8)" stroke="rgba(0,70,70,0.4)" stroke-width="0.5"/>
<polygon points="433.80,146.10 434.46,147.69 436.17,147.83 434.87,148.95 435.27,150.62 433.80,149.72 432.33,150.62 432.73,148.95 431.43,147.83 433.14,147.69" fill="rgba(0,195,180,0.8)" stroke="rgba(0,70,70,0.4)" stroke-width="0.5"/>
<polygon points="465.50,146.50 466.16,148.09 467.87,148.23 466.57,149.35 466.97,151.02 465.50,150.12 464.03,151.02 464.43,149.35 463.13,148.23 464.84,148.09" fill="rgba(0,195,180,0.8)" stroke="rgba(0,70,70,0.4)" stroke-width="0.5"/>
<polygon points="428.80,149.50 429.46,151.09 431.17,151.23 429.87,152.35 430.27,154.02 428.80,153.12 427.33,154.02 427.73,152.35 426.43,151.23 428.14,151.09" fill="rgba(0,195,180,0.8)" stroke="rgba(0,70,70,0.4)" stroke-width="0.5"/>
<polygon points="439.50,152.00 440.16,153.59 441.87,153.73 440.57,154.85 440.97,156.52 439.50,155.62 438.03,156.52 438.43,154.85 437.13,153.73 438.84,153.59" fill="rgba(0,195,180,0.8)" stroke="rgba(0,70,70,0.4)" stroke-width="0.5"/>
<polygon points="402.00,160.20 402.66,161.79 404.37,161.93 403.07,163.05 403.47,164.72 402.00,163.82 400.53,164.72 400.93,163.05 399.63,161.93 401.34,161.79" fill="rgba(0,195,180,0.8)" stroke="rgba(0,70,70,0.4)" stroke-width="0.5"/>
<polygon points="420.40,159.80 421.06,161.39 422.77,161.53 421.47,162.65 421.87,164.32 420.40,163.42 418.93,164.32 419.33,162.65 418.03,161.53 419.74,161.39" fill="rgba(0,195,180,0.8)" stroke="rgba(0,70,70,0.4)" stroke-width="0.5"/>
<polygon points="408.80,167.50 409.46,169.09 411.17,169.23 409.87,170.35 410.27,172.02 408.80,171.12 407.33,172.02 407.73,170.35 406.43,169.23 408.14,169.09" fill="rgba(0,195,180,0.8)" stroke="rgba(0,70,70,0.4)" stroke-width="0.5"/>
<polygon points="407.30,171.40 407.96,172.99 409.67,173.13 408.37,174.25 408.77,175.92 407.30,175.02 405.83,175.92 406.23,174.25 404.93,173.13 406.64,172.99" fill="rgba(0,195,180,0.8)" stroke="rgba(0,70,70,0.4)" stroke-width="0.5"/>
<polygon points="401.90,174.00 402.56,175.59 404.27,175.73 402.97,176.85 403.37,178.52 401.90,177.62 400.43,178.52 400.83,176.85 399.53,175.73 401.24,175.59" fill="rgba(0,195,180,0.8)" stroke="rgba(0,70,70,0.4)" stroke-width="0.5"/>
<polygon points="369.80,170.60 370.46,172.19 372.17,172.33 370.87,173.45 371.27,175.12 369.80,174.22 368.33,175.12 368.73,173.45 367.43,172.33 369.14,172.19" fill="rgba(0,195,180,0.8)" stroke="rgba(0,70,70,0.4)" stroke-width="0.5"/>
<polygon points="332.20,195.40 332.86,196.99 334.57,197.13 333.27,198.25 333.67,199.92 332.20,199.02 330.73,199.92 331.13,198.25 329.83,197.13 331.54,196.99" fill="rgba(0,195,180,0.8)" stroke="rgba(0,70,70,0.4)" stroke-width="0.5"/>
<polygon points="329.10,209.30 329.76,210.89 331.47,211.03 330.17,212.15 330.57,213.82 329.10,212.92 327.63,213.82 328.03,212.15 326.73,211.03 328.44,210.89" fill="rgba(0,195,180,0.8)" stroke="rgba(0,70,70,0.4)" stroke-width="0.5"/>
<polygon points="340.50,210.80 341.16,212.39 342.87,212.53 341.57,213.65 341.97,215.32 340.50,214.42 339.03,215.32 339.43,213.65 338.13,212.53 339.84,212.39" fill="rgba(0,195,180,0.8)" stroke="rgba(0,70,70,0.4)" stroke-width="0.5"/>
<polygon points="355.30,209.10 355.96,210.69 357.67,210.83 356.37,211.95 356.77,213.62 355.30,212.72 353.83,213.62 354.23,211.95 352.93,210.83 354.64,210.69" fill="rgba(0,195,180,0.8)" stroke="rgba(0,70,70,0.4)" stroke-width="0.5"/>
<polygon points="382.40,183.30 383.06,184.89 384.77,185.03 383.47,186.15 383.87,187.82 382.40,186.92 380.93,187.82 381.33,186.15 380.03,185.03 381.74,184.89" fill="rgba(0,195,180,0.8)" stroke="rgba(0,70,70,0.4)" stroke-width="0.5"/>
<polygon points="381.60,192.80 382.26,194.39 383.97,194.53 382.67,195.65 383.07,197.32 381.60,196.42 380.13,197.32 380.53,195.65 379.23,194.53 380.94,194.39" fill="rgba(0,195,180,0.8)" stroke="rgba(0,70,70,0.4)" stroke-width="0.5"/>
<polygon points="374.60,201.50 375.26,203.09 376.97,203.23 375.67,204.35 376.07,206.02 374.60,205.12 373.13,206.02 373.53,204.35 372.23,203.23 373.94,203.09" fill="rgba(0,195,180,0.8)" stroke="rgba(0,70,70,0.4)" stroke-width="0.5"/>
<polygon points="365.10,209.60 365.76,211.19 367.47,211.33 366.17,212.45 366.57,214.12 365.10,213.22 363.63,214.12 364.03,212.45 362.73,211.33 364.44,211.19" fill="rgba(0,195,180,0.8)" stroke="rgba(0,70,70,0.4)" stroke-width="0.5"/>
<polygon points="418.20,195.90 418.86,197.49 420.57,197.63 419.27,198.75 419.67,200.42 418.20,199.52 416.73,200.42 417.13,198.75 415.83,197.63 417.54,197.49" fill="rgba(0,195,180,0.8)" stroke="rgba(0,70,70,0.4)" stroke-width="0.5"/>
<polygon points="363.30,224.00 363.96,225.59 365.67,225.73 364.37,226.85 364.77,228.52 363.30,227.62 361.83,228.52 362.23,226.85 360.93,225.73 362.64,225.59" fill="rgba(0,195,180,0.8)" stroke="rgba(0,70,70,0.4)" stroke-width="0.5"/>
<polygon points="445.00,156.85 443.05,160.75 446.95,160.75" fill="rgba(255,0,0,0.68)" stroke="rgba(110,0,0,0.4)" stroke-width="0.5"/>
<polygon points="428.60,159.55 426.65,163.45 430.55,163.45" fill="rgba(255,0,0,0.68)" stroke="rgba(110,0,0,0.4)" stroke-width="0.5"/>
<polygon points="386.00,176.25 384.05,180.15 387.95,180.15" fill="rgba(255,0,0,0.68)" stroke="rgba(110,0,0,0.4)" stroke-width="0.5"/>
<polygon points="353.60,196.55 351.65,200.45 355.55,200.45" fill="rgba(255,0,0,0.68)" stroke="rgba(110,0,0,0.4)" stroke-width="0.5"/>
<polygon points="353.60,200.45 351.65,204.35 355.55,204.35" fill="rgba(255,0,0,0.68)" stroke="rgba(110,0,0,0.4)" stroke-width="0.5"/>
<polygon points="358.90,211.65 356.95,215.55 360.85,215.55" fill="rgba(255,0,0,0.68)" stroke="rgba(110,0,0,0.4)" stroke-width="0.5"/>
<polygon points="380.60,181.05 378.65,184.95 382.55,184.95" fill="rgba(255,0,0,0.68)" stroke="rgba(110,0,0,0.4)" stroke-width="0.5"/>
<polygon points="380.50,188.55 378.55,192.45 382.45,192.45" fill="rgba(255,0,0,0.68)" stroke="rgba(110,0,0,0.4)" stroke-width="0.5"/>
<polygon points="385.70,193.45 383.75,197.35 387.65,197.35" fill="rgba(255,0,0,0.68)" stroke="rgba(110,0,0,0.4)" stroke-width="0.5"/>
<polygon points="375.10,196.75 373.15,200.65 377.05,200.65" fill="rgba(255,0,0,0.68)" stroke="rgba(110,0,0,0.4)" stroke-width="0.5"/>
<polygon points="370.10,201.85 368.15,205.75 372.05,205.75" fill="rgba(255,0,0,0.68)" stroke="rgba(110,0,0,0.4)" stroke-width="0.5"/>
<polygon points="396.50,195.35 394.55,199.25 398.45,199.25" fill="rgba(255,0,0,0.68)" stroke="rgba(110,0,0,0.4)" stroke-width="0.5"/>
<polygon points="407.00,196.25 405.05,200.15 408.95,200.15" fill="rgba(255,0,0,0.68)" stroke="rgba(110,0,0,0.4)" stroke-width="0.5"/>
<polygon points="412.60,193.75 410.65,197.65 414.55,197.65" fill="rgba(255,0,0,0.68)" stroke="rgba(110,0,0,0.4)" stroke-width="0.5"/>
<polygon points="348.30,213.95 346.35,217.85 350.25,217.85" fill="rgba(255,0,0,0.68)" stroke="rgba(110,0,0,0.4)" stroke-width="0.5"/>
<polygon points="359.10,218.15 357.15,222.05 361.05,222.05" fill="rgba(255,0,0,0.68)" stroke="rgba(110,0,0,0.4)" stroke-width="0.5"/>
<polygon points="358.90,223.35 356.95,227.25 360.85,227.25" fill="rgba(255,0,0,0.68)" stroke="rgba(110,0,0,0.4)" stroke-width="0.5"/>
<rect x="416.32" y="153.42" width="3.35" height="3.35" fill="rgba(205,205,10,0.65)" stroke="rgba(100,100,0,0.45)" stroke-width="0.5"/>
<rect x="442.92" y="153.92" width="3.35" height="3.35" fill="rgba(205,205,10,0.65)" stroke="rgba(100,100,0,0.45)" stroke-width="0.5"/>
<rect x="421.72" y="169.02" width="3.35" height="3.35" fill="rgba(205,205,10,0.65)" stroke="rgba(100,100,0,0.45)" stroke-width="0.5"/>
<rect x="346.72" y="189.52" width="3.35" height="3.35" fill="rgba(205,205,10,0.65)" stroke="rgba(100,100,0,0.45)" stroke-width="0.5"/>
<rect x="346.72" y="194.52" width="3.35" height="3.35" fill="rgba(205,205,10,0.65)" stroke="rgba(100,100,0,0.45)" stroke-width="0.5"/>
<rect x="351.92" y="201.32" width="3.35" height="3.35" fill="rgba(205,205,10,0.65)" stroke="rgba(100,100,0,0.45)" stroke-width="0.5"/>
<rect x="351.82" y="204.92" width="3.35" height="3.35" fill="rgba(205,205,10,0.65)" stroke="rgba(100,100,0,0.45)" stroke-width="0.5"/>
<rect x="378.82" y="190.12" width="3.35" height="3.35" fill="rgba(205,205,10,0.65)" stroke="rgba(100,100,0,0.45)" stroke-width="0.5"/>
<rect x="373.22" y="190.62" width="3.35" height="3.35" fill="rgba(205,205,10,0.65)" stroke="rgba(100,100,0,0.45)" stroke-width="0.5"/>
<rect x="389.32" y="191.12" width="3.35" height="3.35" fill="rgba(205,205,10,0.65)" stroke="rgba(100,100,0,0.45)" stroke-width="0.5"/>
<rect x="389.32" y="196.22" width="3.35" height="3.35" fill="rgba(205,205,10,0.65)" stroke="rgba(100,100,0,0.45)" stroke-width="0.5"/>
<rect x="384.32" y="199.62" width="3.35" height="3.35" fill="rgba(205,205,10,0.65)" stroke="rgba(100,100,0,0.45)" stroke-width="0.5"/>
<rect x="362.82" y="201.02" width="3.35" height="3.35" fill="rgba(205,205,10,0.65)" stroke="rgba(100,100,0,0.45)" stroke-width="0.5"/>
<rect x="368.52" y="205.92" width="3.35" height="3.35" fill="rgba(205,205,10,0.65)" stroke="rgba(100,100,0,0.45)" stroke-width="0.5"/>
<rect x="373.32" y="208.72" width="3.35" height="3.35" fill="rgba(205,205,10,0.65)" stroke="rgba(100,100,0,0.45)" stroke-width="0.5"/>
<rect x="362.02" y="210.32" width="3.35" height="3.35" fill="rgba(205,205,10,0.65)" stroke="rgba(100,100,0,0.45)" stroke-width="0.5"/>
<rect x="368.72" y="212.62" width="3.35" height="3.35" fill="rgba(205,205,10,0.65)" stroke="rgba(100,100,0,0.45)" stroke-width="0.5"/>
<rect x="394.82" y="183.92" width="3.35" height="3.35" fill="rgba(205,205,10,0.65)" stroke="rgba(100,100,0,0.45)" stroke-width="0.5"/>
<rect x="400.42" y="183.12" width="3.35" height="3.35" fill="rgba(205,205,10,0.65)" stroke="rgba(100,100,0,0.45)" stroke-width="0.5"/>
<rect x="405.42" y="200.92" width="3.35" height="3.35" fill="rgba(205,205,10,0.65)" stroke="rgba(100,100,0,0.45)" stroke-width="0.5"/>
<rect x="351.82" y="213.72" width="3.35" height="3.35" fill="rgba(205,205,10,0.65)" stroke="rgba(100,100,0,0.45)" stroke-width="0.5"/>
<rect x="368.22" y="214.32" width="3.35" height="3.35" fill="rgba(205,205,10,0.65)" stroke="rgba(100,100,0,0.45)" stroke-width="0.5"/>
<rect x="389.42" y="216.32" width="3.35" height="3.35" fill="rgba(205,205,10,0.65)" stroke="rgba(100,100,0,0.45)" stroke-width="0.5"/>
<rect x="341.22" y="227.32" width="3.35" height="3.35" fill="rgba(205,205,10,0.65)" stroke="rgba(100,100,0,0.45)" stroke-width="0.5"/>
</g>
<line x1="321.60" y1="257.0" x2="321.60" y2="255.0" stroke="#333" stroke-width="0.6"/>
<line x1="321.60" y1="32.3" x2="321.60" y2="34.3" stroke="#333" stroke-width="0.6"/>
<line x1="359.50" y1="257.0" x2="359.50" y2="255.0" stroke="#333" stroke-width="0.6"/>
<line x1="359.50" y1="32.3" x2="359.50" y2="34.3" stroke="#333" stroke-width="0.6"/>
<line x1="397.40" y1="257.0" x2="397.40" y2="255.0" stroke="#333" stroke-width="0.6"/>
<line x1="397.40" y1="32.3" x2="397.40" y2="34.3" stroke="#333" stroke-width="0.6"/>
<line x1="435.30" y1="257.0" x2="435.30" y2="255.0" stroke="#333" stroke-width="0.6"/>
<line x1="435.30" y1="32.3" x2="435.30" y2="34.3" stroke="#333" stroke-width="0.6"/>
<line x1="473.20" y1="257.0" x2="473.20" y2="255.0" stroke="#333" stroke-width="0.6"/>
<line x1="473.20" y1="32.3" x2="473.20" y2="34.3" stroke="#333" stroke-width="0.6"/>
<line x1="511.10" y1="257.0" x2="511.10" y2="255.0" stroke="#333" stroke-width="0.6"/>
<line x1="511.10" y1="32.3" x2="511.10" y2="34.3" stroke="#333" stroke-width="0.6"/>
<line x1="321.5" y1="256.90" x2="323.5" y2="256.90" stroke="#333" stroke-width="0.6"/>
<line x1="545.5" y1="256.90" x2="543.5" y2="256.90" stroke="#333" stroke-width="0.6"/>
<line x1="321.5" y1="218.97" x2="323.5" y2="218.97" stroke="#333" stroke-width="0.6"/>
<line x1="545.5" y1="218.97" x2="543.5" y2="218.97" stroke="#333" stroke-width="0.6"/>
<line x1="321.5" y1="181.04" x2="323.5" y2="181.04" stroke="#333" stroke-width="0.6"/>
<line x1="545.5" y1="181.04" x2="543.5" y2="181.04" stroke="#333" stroke-width="0.6"/>
<line x1="321.5" y1="143.11" x2="323.5" y2="143.11" stroke="#333" stroke-width="0.6"/>
<line x1="545.5" y1="143.11" x2="543.5" y2="143.11" stroke="#333" stroke-width="0.6"/>
<line x1="321.5" y1="105.18" x2="323.5" y2="105.18" stroke="#333" stroke-width="0.6"/>
<line x1="545.5" y1="105.18" x2="543.5" y2="105.18" stroke="#333" stroke-width="0.6"/>
<line x1="321.5" y1="67.25" x2="323.5" y2="67.25" stroke="#333" stroke-width="0.6"/>
<line x1="545.5" y1="67.25" x2="543.5" y2="67.25" stroke="#333" stroke-width="0.6"/>
<path d="M320.9,32.3 H545.5 V257.0 H320.9" fill="none" stroke="#505050" stroke-width="1.2"/>
<line x1="321.5" y1="31.699999999999996" x2="321.5" y2="257.6" stroke="#8c8c8c" stroke-width="1.4"/>
<rect x="32.3" y="285.6" width="223.3" height="50.39999999999998" fill="#fff" stroke="#555" stroke-width="1.1"/>
<circle cx="38.10" cy="292.00" r="1.80" fill="rgba(0,0,225,0.67)" stroke="rgba(0,0,60,0.5)" stroke-width="0.5"/>
<circle cx="49.10" cy="292.00" r="1.80" fill="rgba(0,0,225,0.67)" stroke="rgba(0,0,60,0.5)" stroke-width="0.5"/>
<polygon points="38.10,301.64 38.78,303.27 40.53,303.41 39.20,304.56 39.60,306.27 38.10,305.35 36.60,306.27 37.00,304.56 35.67,303.41 37.42,303.27" fill="rgba(0,195,180,0.8)" stroke="rgba(0,70,70,0.4)" stroke-width="0.5"/>
<polygon points="49.10,301.64 49.78,303.27 51.53,303.41 50.20,304.56 50.60,306.27 49.10,305.35 47.60,306.27 48.00,304.56 46.67,303.41 48.42,303.27" fill="rgba(0,195,180,0.8)" stroke="rgba(0,70,70,0.4)" stroke-width="0.5"/>
<polygon points="38.10,314.10 36.10,318.10 40.10,318.10" fill="rgba(255,0,0,0.68)" stroke="rgba(110,0,0,0.4)" stroke-width="0.5"/>
<polygon points="49.10,314.10 47.10,318.10 51.10,318.10" fill="rgba(255,0,0,0.68)" stroke="rgba(110,0,0,0.4)" stroke-width="0.5"/>
<rect x="36.38" y="326.48" width="3.44" height="3.44" fill="rgba(205,205,10,0.65)" stroke="rgba(100,100,0,0.45)" stroke-width="0.5"/>
<rect x="47.38" y="326.48" width="3.44" height="3.44" fill="rgba(205,205,10,0.65)" stroke="rgba(100,100,0,0.45)" stroke-width="0.5"/>
<rect x="314.1" y="285.8" width="223.39999999999998" height="50.5" fill="#fff" stroke="#555" stroke-width="1.1"/>
<circle cx="319.80" cy="292.30" r="1.80" fill="rgba(0,0,225,0.67)" stroke="rgba(0,0,60,0.5)" stroke-width="0.5"/>
<circle cx="330.80" cy="292.30" r="1.80" fill="rgba(0,0,225,0.67)" stroke="rgba(0,0,60,0.5)" stroke-width="0.5"/>
<polygon points="319.80,302.04 320.48,303.67 322.23,303.81 320.90,304.96 321.30,306.67 319.80,305.75 318.30,306.67 318.70,304.96 317.37,303.81 319.12,303.67" fill="rgba(0,195,180,0.8)" stroke="rgba(0,70,70,0.4)" stroke-width="0.5"/>
<polygon points="330.80,302.04 331.48,303.67 333.23,303.81 331.90,304.96 332.30,306.67 330.80,305.75 329.30,306.67 329.70,304.96 328.37,303.81 330.12,303.67" fill="rgba(0,195,180,0.8)" stroke="rgba(0,70,70,0.4)" stroke-width="0.5"/>
<polygon points="319.80,314.40 317.80,318.40 321.80,318.40" fill="rgba(255,0,0,0.68)" stroke="rgba(110,0,0,0.4)" stroke-width="0.5"/>
<polygon points="330.80,314.40 328.80,318.40 332.80,318.40" fill="rgba(255,0,0,0.68)" stroke="rgba(110,0,0,0.4)" stroke-width="0.5"/>
<rect x="318.08" y="326.78" width="3.44" height="3.44" fill="rgba(205,205,10,0.65)" stroke="rgba(100,100,0,0.45)" stroke-width="0.5"/>
<rect x="329.08" y="326.78" width="3.44" height="3.44" fill="rgba(205,205,10,0.65)" stroke="rgba(100,100,0,0.45)" stroke-width="0.5"/>
<text x="23.66" y="260" font-size="9.60" transform="scale(1.0724,1)" >0</text>
<text x="28.85" y="266" font-size="9.60" transform="scale(1.0724,1)" >0</text>
<text x="23.66" y="233" font-size="9.60" transform="scale(1.0724,1)" >5</text>
<text x="54.38" y="266" font-size="9.60" transform="scale(1.0724,1)" >5</text>
<text x="18.33 23.66" y="206" font-size="9.60" transform="scale(1.0724,1)" >10</text>
<text x="77.23 82.57" y="266" font-size="9.60" transform="scale(1.0724,1)" >10</text>
<text x="18.33 23.66" y="179" font-size="9.60" transform="scale(1.0724,1)" >15</text>
<text x="102.76 108.10" y="266" font-size="9.60" transform="scale(1.0724,1)" >15</text>
<text x="18.33 23.66" y="153" font-size="9.60" transform="scale(1.0724,1)" >20</text>
<text x="128.29 133.63" y="266" font-size="9.60" transform="scale(1.0724,1)" >20</text>
<text x="18.33 23.66" y="126" font-size="9.60" transform="scale(1.0724,1)" >25</text>
<text x="153.82 159.16" y="266" font-size="9.60" transform="scale(1.0724,1)" >25</text>
<text x="18.33 23.66" y="99" font-size="9.60" transform="scale(1.0724,1)" >30</text>
<text x="179.34 184.68" y="266" font-size="9.60" transform="scale(1.0724,1)" >30</text>
<text x="18.33 23.66" y="72" font-size="9.60" transform="scale(1.0724,1)" >35</text>
<text x="204.87 210.21" y="266" font-size="9.60" transform="scale(1.0724,1)" >35</text>
<text x="18.33 23.66" y="46" font-size="9.60" transform="scale(1.0724,1)" >40</text>
<text x="230.40 235.74" y="266" font-size="9.60" transform="scale(1.0724,1)" >40</text>
<text x="292.13" y="260" font-size="9.60" transform="scale(1.0724,1)" >0</text>
<text x="297.04" y="266" font-size="9.60" transform="scale(1.0724,1)" >0</text>
<text x="281.44 286.78 292.12" y="222" font-size="9.60" transform="scale(1.0724,1)" >100</text>
<text x="327.03 332.37 337.71" y="266" font-size="9.60" transform="scale(1.0724,1)" >100</text>
<text x="281.44 286.78 292.12" y="184" font-size="9.60" transform="scale(1.0724,1)" >200</text>
<text x="362.38 367.72 373.06" y="266" font-size="9.60" transform="scale(1.0724,1)" >200</text>
<text x="281.44 286.78 292.12" y="146" font-size="9.60" transform="scale(1.0724,1)" >300</text>
<text x="397.72 403.06 408.40" y="266" font-size="9.60" transform="scale(1.0724,1)" >300</text>
<text x="281.44 286.78 292.12" y="108" font-size="9.60" transform="scale(1.0724,1)" >400</text>
<text x="433.06 438.40 443.74" y="266" font-size="9.60" transform="scale(1.0724,1)" >400</text>
<text x="281.44 286.78 292.12" y="70" font-size="9.60" transform="scale(1.0724,1)" >500</text>
<text x="468.40 473.74 479.08" y="266" font-size="9.60" transform="scale(1.0724,1)" >500</text>
<text x="77.59 84.96 91.16 96.70 103.27 108.95 116.58 120.59 126.72 136.38 142.59 148.62 152.41 155.33 165.16 172.00 175.80 178.45 184.91" y="16" font-size="11.68" transform="scale(1.1074,1)" >BasalAreaestimation</text>
<text x="76.07 83.12 90.18 98.18 105.25 115.35 122.02 128.70 135.43 141.76 148.45 155.24 162.80 168.85 171.66 178.06 183.63 189.38 195.78" y="30" font-size="11.66" transform="scale(1.0710,1)" >SVR,modelperclasses</text>
<text x="324.91 331.80 334.25 340.35 349.77 357.87 364.29 370.56 376.30 379.41 383.17 392.31 398.49 404.48 408.26 411.10 420.89 427.69 431.47 434.08 440.48" y="16" font-size="11.75" transform="scale(1.1226,1)" >TreeDensityestimation</text>
<text x="341.23 348.32 355.40 363.44 370.55 380.69 387.39 394.10 400.86 407.22 413.93 420.76 428.36 434.43 437.25 443.68 449.28 455.05 461.48" y="30" font-size="11.72" transform="scale(1.0710,1)" >SVR,modelperclasses</text>
<text x="58.28 62.32 68.86 72.18 78.85 82.88 89.17 95.67 101.42 110.87 118.29 124.54 130.12 136.73 142.45 150.13 154.17 160.34 170.20 174.38 184.40 191.12 194.54 201.04 207.59" y="280" font-size="11.76" transform="scale(1.1069,1)" >referenceBasalArea(m2/ha)</text>
<text x="301.38 305.41 311.98 315.29 321.98 326.02 332.31 338.83 344.58 353.98 360.98 363.48 369.67 379.25 387.47 394.00 400.36 406.19 409.36 413.18 422.62 427.04 430.91 434.94 441.14 447.41 453.21 456.63 463.14 469.71" y="281" font-size="11.90" transform="scale(1.1182,1)" >referenceTreeDensity(trees/ha)</text>
<text transform="translate(14.0,200.3) rotate(-90) scale(1.1310,1)" x="-0.03 6.50 10.34 16.38 22.88 25.42 31.41 35.09 37.61 43.85 49.95 58.66 62.60 72.26 78.73 81.99 88.23 94.54" y="0" font-size="11.53">predictions(m2/ha)</text>
<text transform="translate(295.4,206.8) rotate(-90) scale(1.1294,1)" x="-0.02 6.54 10.41 16.49 23.01 25.57 31.60 35.30 37.84 44.12 50.25 59.01 63.27 67.00 70.87 76.85 82.89 88.50 91.78 98.05 104.39" y="0" font-size="11.58">predictions(trees/ha)</text>
<text x="33.72 40.33 45.05 47.97 52.45 57.06 63.62 69.03 71.57 76.44 79.15 80.93 85.23 87.93 89.82 93.77 97.86" y="40" font-size="8.35" transform="scale(1.0847,1)" >MergedStatistics:</text>
<text x="31.49 34.13 39.04 44.19 48.60 50.70 55.04 59.61 63.02 66.44" y="49" font-size="8.35" transform="scale(1.1724,1)" >r2=0.59***</text>
<text x="34.15 39.52 45.82 50.57 56.42 62.06 66.80 69.21 73.97 81.23 88.42 93.23 95.71 100.37 107.44 110.36 115.13 119.86 122.27 126.83 134.17" y="59" font-size="8.35" transform="scale(1.0677,1)" >RMSE=4.83m2/ha(25.3%)</text>
<text x="33.86 40.27 45.15 50.93 56.50 61.20 63.56 70.72 77.84 82.60 85.03 89.64 96.64 99.51 104.22 108.91 111.28 115.76 123.04" y="68" font-size="8.35" transform="scale(1.0808,1)" >MAE=3.9m2/ha(20.4%)</text>
<text x="298.76 305.37 310.09 313.01 317.49 322.10 328.66 334.07 336.61 341.48 344.19 345.97 350.26 352.97 354.86 358.81 362.90" y="40" font-size="8.35" transform="scale(1.0847,1)" >MergedStatistics:</text>
<text x="274.22 276.83 281.70 286.80 291.19 293.25 297.79 301.17 304.55" y="49" font-size="8.35" transform="scale(1.1830,1)" >r2=0.7***</text>
<text x="302.74 308.10 314.39 319.13 324.97 330.59 335.35 340.08 342.48 347.24 354.62 357.40 360.30 364.73 369.22 373.35 375.82 380.47 387.53 390.44 395.20 399.92 402.33 406.87 414.20" y="59" font-size="8.35" transform="scale(1.0701,1)" >RMSE=53.33trees/ha(30.5%)</text>
<text x="299.57 305.98 310.84 316.63 322.19 326.90 331.59 333.95 341.27 344.01 346.87 351.26 355.69 359.79 362.22 366.82 373.82 376.68 381.39 386.07 388.44 392.92 400.19" y="68" font-size="8.35" transform="scale(1.0819,1)" >MAE=38.0trees/ha(21.8%)</text>
<text x="53.39 57.88 62.49 69.09 71.56 77.83 80.82 82.70 87.21 91.80 96.27 100.32 105.56 110.41 113.33 118.63 124.16 128.83 131.17 135.85 140.72 144.39 148.07 153.99 156.43 161.69 167.88 172.53 178.28 183.81 188.49 193.16 195.50 202.27" y="295" font-size="8.35" transform="scale(1.0887,1)" >oak(Orleans);r2=0.37***rRMSE=25.7%</text>
<text x="53.70 57.67 61.73 66.61 69.06 72.53 77.64 79.46 84.08 91.09 93.59 99.89 102.90 104.81 109.35 113.97 118.48 122.55 127.82 132.72 135.66 141.00 146.57 151.27 153.64 158.35 163.25 166.95 170.66 176.62 179.09 184.39 190.63 195.31 201.10 206.67 211.38 216.08 218.45 225.28" y="307" font-size="8.35" transform="scale(1.0806,1)" >scotsPine(Orleans);r2=0.62***rRMSE=24.9%</text>
<text x="53.51 58.02 62.63 69.25 71.63 77.04 79.25 85.28 89.87 94.46 99.14 101.10 105.80 111.05 115.92 118.84 124.15 129.70 134.37 136.72 141.41 146.29 149.97 153.66 159.59 162.04 167.31 173.52 178.18 183.94 189.48 194.17 198.84 201.19 207.99" y="319" font-size="8.35" transform="scale(1.0862,1)" >oak(StGobain);r2=0.64***rRMSE=25.7%</text>
<text x="53.63 58.23 62.77 67.29 71.42 78.47 80.85 86.26 88.47 94.50 99.10 103.69 108.37 110.33 115.04 120.29 125.16 128.08 133.40 138.95 143.63 145.98 150.67 155.55 159.24 162.92 168.86 171.31 176.58 182.79 187.46 193.22 198.77 203.46 208.13 210.49 217.28" y="331" font-size="8.35" transform="scale(1.0856,1)" >beech(StGobain);r2=0.77***rRMSE=23.9%</text>
<text x="312.15 316.64 321.25 327.85 330.32 336.59 339.58 341.46 345.97 350.56 355.03 359.08 364.32 369.17 372.09 377.39 382.92 387.59 389.93 394.61 399.48 403.15 406.83 412.75 415.19 420.45 426.64 431.30 437.04 442.57 447.25 451.92 454.26 461.04" y="295" font-size="8.35" transform="scale(1.0887,1)" >oak(Orleans);r2=0.61***rRMSE=32.6%</text>
<text x="314.40 318.36 322.43 327.30 329.76 333.22 338.34 340.16 344.78 351.79 354.29 360.58 363.59 365.50 370.05 374.67 379.17 383.24 388.52 393.41 396.36 401.70 407.27 411.96 414.33 419.04 423.95 427.65 431.35 437.31 439.78 445.08 451.32 456.01 461.80 467.37 472.08 476.77 479.14 485.98" y="307" font-size="8.35" transform="scale(1.0806,1)" >scotsPine(Orleans);r2=0.78***rRMSE=28.0%</text>
<text x="312.84 317.35 321.97 328.58 330.96 336.37 338.58 344.61 349.20 353.79 358.47 360.43 365.13 370.38 375.25 378.17 383.49 389.03 393.71 396.06 400.74 405.62 409.31 412.99 418.92 421.37 426.64 432.85 437.51 443.27 448.82 453.50 458.18 460.53 467.32" y="319" font-size="8.35" transform="scale(1.0862,1)" >oak(StGobain);r2=0.64***rRMSE=27.3%</text>
<text x="313.11 317.71 322.25 326.77 330.90 337.95 340.33 345.74 347.95 353.99 358.58 363.17 367.85 369.82 374.52 379.77 384.64 387.57 392.88 398.43 403.11 405.46 410.15 415.03 418.72 422.40 428.34 430.79 436.06 442.27 446.94 452.70 458.25 462.94 467.61 469.97 476.77" y="331" font-size="8.35" transform="scale(1.0856,1)" >beech(StGobain);r2=0.56***rRMSE=28.9%</text>
<text x="127.60" y="352.00" font-size="12" textLength="13.90" lengthAdjust="spacingAndGlyphs" style='font-family:"Liberation Serif", serif;stroke-width:0.3px;fill:#111;stroke:#111' >(a)</text>
<text x="408.80" y="352.00" font-size="12" textLength="14.60" lengthAdjust="spacingAndGlyphs" style='font-family:"Liberation Serif", serif;stroke-width:0.3px;fill:#111;stroke:#111' >(b)</text>
</svg>
</body></html>
